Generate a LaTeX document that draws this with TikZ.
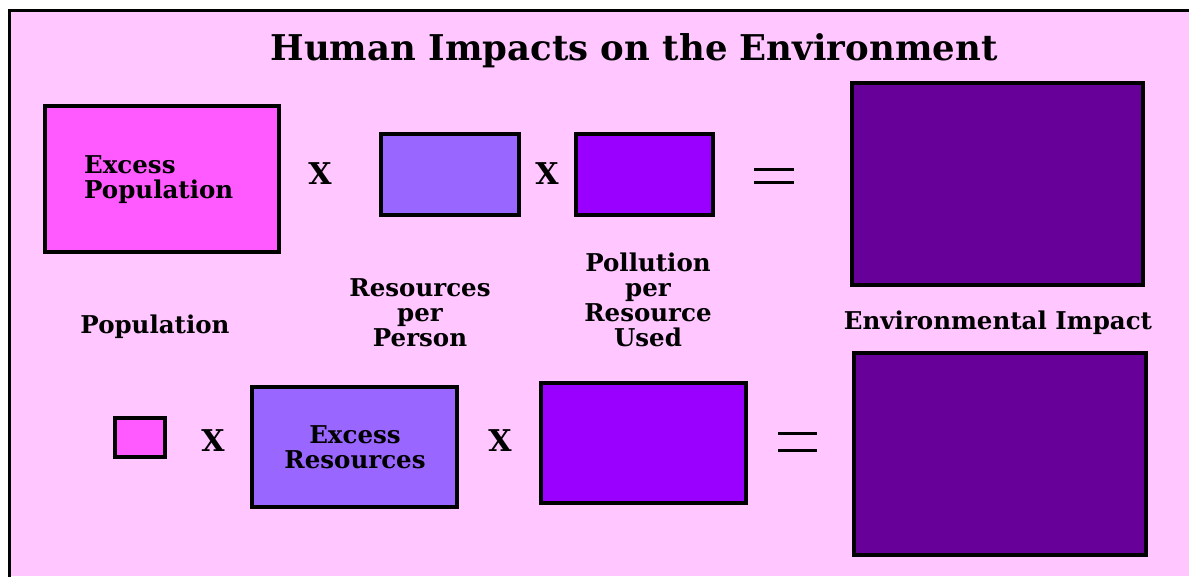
\documentclass[tikz,border=0pt]{standalone}
\usepackage{fontspec}
\setmainfont{DejaVu Serif}
\definecolor{bgpink}{RGB}{255,198,255}
\definecolor{popc}{RGB}{255,90,255}
\definecolor{resc}{RGB}{153,102,255}
\definecolor{polc}{RGB}{153,0,255}
\definecolor{impc}{RGB}{102,0,153}
\tikzset{
  boxx/.style={draw=black, line width=3.5pt, inner sep=0pt},
  lbl/.style={font=\fontsize{24.5}{25}\selectfont\bfseries, align=center, inner sep=0pt},
  inlbl/.style={font=\fontsize{24.5}{25}\selectfont\bfseries, align=left, inner sep=0pt},
  times/.style={font=\fontsize{30}{30}\selectfont\bfseries, inner sep=0pt},
  eqline/.style={line width=3pt}
}
\begin{document}
\begin{tikzpicture}[x=1pt,y=-1pt]
\useasboundingbox (0,0) rectangle (1189,576);
\fill[white] (0,0) rectangle (1189,576);
\fill[bgpink] (9,10) rectangle (1189,576);
\draw[line width=3pt] (9.5,578) -- (9.5,10.5) -- (1191,10.5);
% title
\node[font=\fontsize{35.5}{38}\selectfont\bfseries, inner sep=0pt] (title) at (634,51) {Human Impacts on the Environment};
% top row
\path[boxx, fill=popc] (45,106) rectangle (279,252);
\node[inner sep=0pt, minimum width=234pt, minimum height=146pt] (pop1) at (162,179) {};
\node[inlbl, anchor=west] (pop1t) at (84,180) {Excess\\Population};
\node[times] (x1) at (320,174) {X};
\path[boxx, fill=resc] (381,134) rectangle (519,215);
\node[inner sep=0pt, minimum width=138pt, minimum height=81pt] (res1) at (450,175) {};
\node[times] (x2) at (547,174) {X};
\path[boxx, fill=polc] (576,134) rectangle (713,215);
\node[inner sep=0pt, minimum width=137pt, minimum height=81pt] (pol1) at (645,175) {};
\coordinate (eq1a) at (754,169);
\coordinate (eq1b) at (794,169);
\coordinate (eq1c) at (754,182);
\coordinate (eq1d) at (794,182);
\draw[eqline] (eq1a) -- (eq1b);
\draw[eqline] (eq1c) -- (eq1d);
\path[boxx, fill=impc] (852,83) rectangle (1143,285);
\node[inner sep=0pt, minimum width=291pt, minimum height=202pt] (imp1) at (997,184) {};
% labels
\node[lbl] (lpop) at (155,327) {Population};
\node[lbl] (lres) at (420,313) {Resources\\per\\Person};
\node[lbl] (lpol) at (648,300) {Pollution\\per\\Resource\\Used};
\node[lbl] (limp) at (998,323) {Environmental Impact};
% bottom row
\path[boxx, fill=popc] (115,418) rectangle (165,457);
\node[inner sep=0pt, minimum width=50pt, minimum height=39pt] (pop2) at (140,437) {};
\node[times] (x3) at (213,441) {X};
\path[boxx, fill=resc] (252,387) rectangle (457,507);
\node[inlbl, align=center] (res2t) at (355,447) {Excess\\Resources};
\node[times] (x4) at (500,441) {X};
\path[boxx, fill=polc] (541,383) rectangle (746,503);
\node[inner sep=0pt, minimum width=205pt, minimum height=120pt] (pol2) at (643,443) {};
\coordinate (eq2a) at (778,433);
\coordinate (eq2b) at (817,433);
\coordinate (eq2c) at (778,450);
\coordinate (eq2d) at (817,450);
\draw[eqline] (eq2a) -- (eq2b);
\draw[eqline] (eq2c) -- (eq2d);
\path[boxx, fill=impc] (854,353) rectangle (1146,555);
\node[inner sep=0pt, minimum width=292pt, minimum height=202pt] (imp2) at (1000,454) {};
\end{tikzpicture}
\end{document}
